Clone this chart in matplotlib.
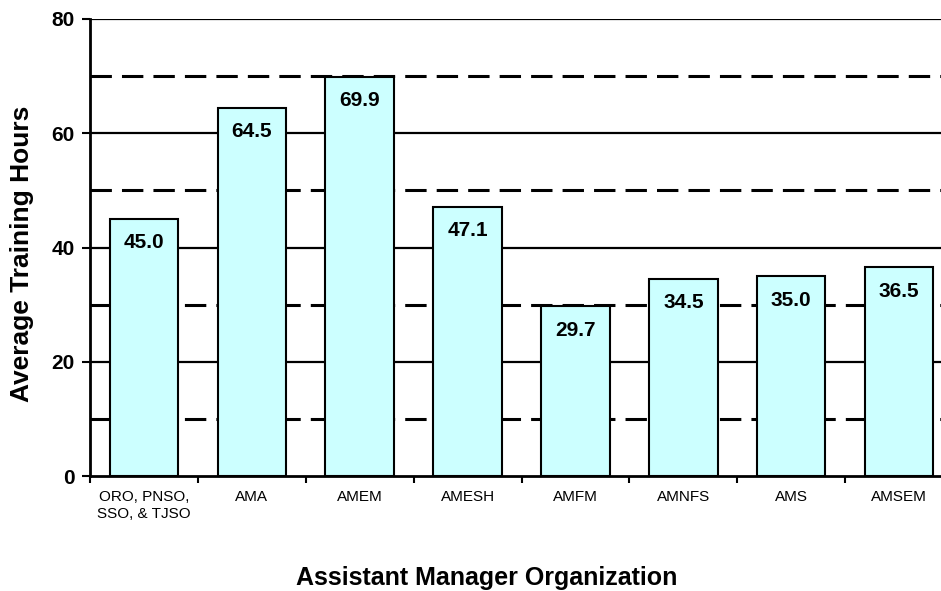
import matplotlib
matplotlib.use("Agg")
import matplotlib.pyplot as plt
import numpy as np

categories = ["ORO, PNSO,\nSSO, & TJSO", "AMA", "AMEM", "AMESH", "AMFM", "AMNFS", "AMS", "AMSEM"]
values = [45.0, 64.5, 69.9, 47.1, 29.7, 34.5, 35.0, 36.5]
yticks = [0, 20, 40, 60, 80]
dashed_levels = [10, 30, 50, 70]

plt.rcParams['font.family'] = ['Liberation Sans', 'DejaVu Sans']

fig = plt.figure(figsize=(9.41, 5.91), dpi=100)
ax = fig.add_axes([90/941, 115/591, 863/941, 457/591])

x = np.arange(len(categories))
ax.set_xlim(-0.5, len(categories) - 0.5)
ax.set_ylim(0, 80)

for lv in yticks[1:]:
    ax.axhline(lv, color='black', lw=1.6, zorder=1)
for lv in dashed_levels:
    ax.axhline(lv, color='black', lw=2.2, ls=(0, (7, 3.3)), zorder=1)

ax.bar(x, values, width=0.635, color='#CCFFFF', edgecolor='black', linewidth=1.5, zorder=2)

for xi, v in zip(x, values):
    ax.annotate(f"{v:.1f}", (xi, v), xytext=(0, -24), textcoords='offset pixels',
                ha='center', va='center', fontsize=15, fontweight='bold', zorder=3)

ax.set_yticks(yticks)
ax.set_yticklabels([str(t) for t in yticks], fontsize=15, fontweight='bold')
ax.set_xticks(np.arange(len(categories) + 1) - 0.5, minor=False)
ax.set_xticklabels([])
ax.set_xticks(x, minor=True)
ax.set_xticklabels(categories, minor=True, fontsize=11, linespacing=1.25)
ax.tick_params(axis='x', which='minor', length=0, pad=10)
ax.tick_params(axis='x', which='major', length=5, width=1.5, direction='out')
ax.tick_params(axis='y', length=6, width=1.5, direction='out', pad=5)

for s in ['top', 'right']:
    ax.spines[s].set_visible(False)
ax.spines['left'].set_linewidth(2)
ax.spines['bottom'].set_linewidth(2)
ax.spines['left'].set_zorder(4)
ax.spines['bottom'].set_zorder(4)

fig.text(22/941, 1 - 254/591, "Average Training Hours", fontsize=19, fontweight='bold',
         ha='center', va='center', rotation=90)
fig.text(487/941, 1 - 578/591, "Assistant Manager Organization", fontsize=18, fontweight='bold',
         ha='center', va='center')

fig.savefig("out.png", dpi=100)
